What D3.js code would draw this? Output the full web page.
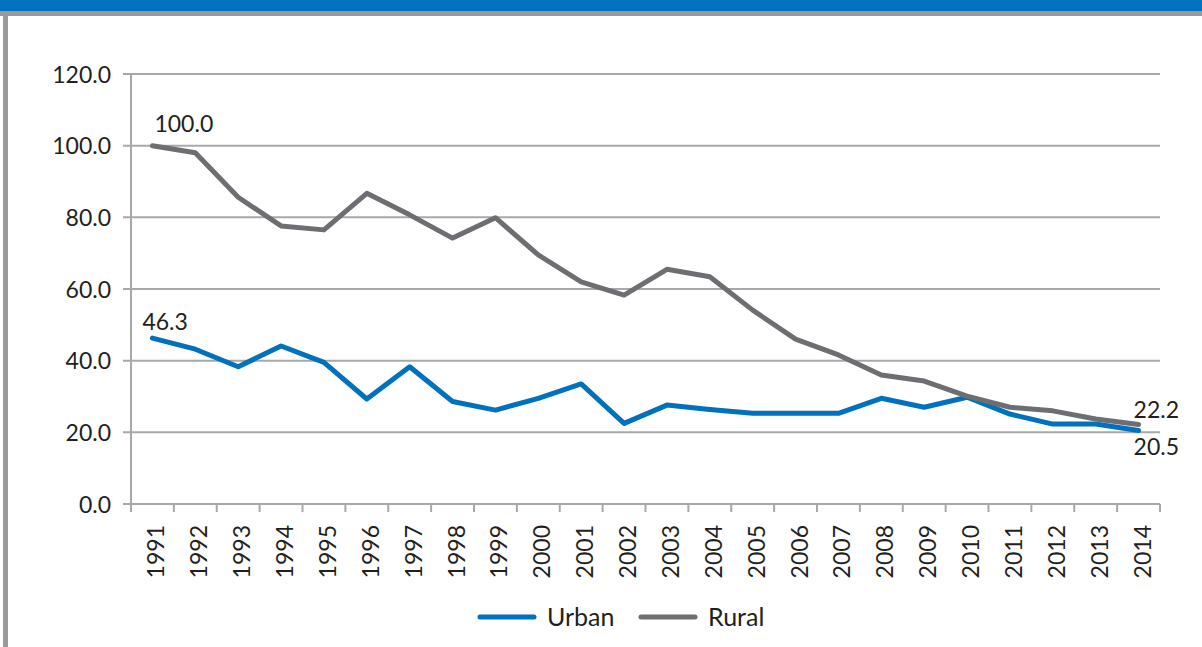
<!DOCTYPE html>
<html><head><meta charset="utf-8">
<script src="https://cdn.jsdelivr.net/npm/d3@7"></script>
<style>html,body{margin:0;padding:0;background:#fff;overflow:hidden}</style>
</head><body>
<svg id="c" width="1202" height="647"></svg>
<script>
const years = ["1991","1992","1993","1994","1995","1996","1997","1998","1999","2000","2001","2002","2003","2004","2005","2006","2007","2008","2009","2010","2011","2012","2013","2014"];
const urban = [46.3,43.2,38.3,44.1,39.5,29.3,38.3,28.6,26.2,29.5,33.5,22.5,27.6,26.4,25.3,25.3,25.3,29.5,27.0,29.8,25.1,22.3,22.3,20.5];
const rural = [100.0,98.0,85.6,77.6,76.5,86.7,80.7,74.2,79.9,69.5,62.0,58.3,65.5,63.4,54.1,46.0,41.6,36.0,34.3,30.1,27.0,26.0,23.7,22.2];
const yTicks = [0,20,40,60,80,100,120];
const seriesNames = ["Urban","Rural"];
const colors = ["#0071BC","#6D6E71"];

const svg = d3.select("#c");
const font = "Lato, 'Noto Sans', sans-serif";
const ink = "#231f20";
// frame
svg.append("rect").attr("x",0).attr("y",0).attr("width",1202).attr("height",11).attr("fill","#0071BC");
svg.append("rect").attr("x",0).attr("y",11).attr("width",1202).attr("height",5).attr("fill","#9a9a9c");
svg.append("rect").attr("x",3).attr("y",11).attr("width",5).attr("height",636).attr("fill","#9a9a9c");

const x = d3.scaleBand().domain(years).range([131,1160]);
const y = d3.scaleLinear().domain([0,120]).range([504,74]);
const g = svg.append("g");

// gridlines
g.selectAll("line.grid").data(yTicks).join("line")
  .attr("x1",123).attr("x2",1160).attr("y1",d=>y(d)).attr("y2",d=>y(d))
  .attr("stroke","#a7a8aa").attr("stroke-width",2);
// y axis line
g.append("line").attr("x1",131).attr("x2",131).attr("y1",y(120)).attr("y2",512).attr("stroke","#a7a8aa").attr("stroke-width",2);
// x ticks at band boundaries
const bounds = years.map(d=>x(d)).concat([x.range()[1]]);
g.selectAll("line.xt").data(bounds).join("line")
  .attr("x1",d=>d).attr("x2",d=>d).attr("y1",504).attr("y2",512)
  .attr("stroke","#a7a8aa").attr("stroke-width",2);
// y labels
g.selectAll("text.yl").data(yTicks).join("text")
  .attr("x",111).attr("y",d=>y(d)+8.5).attr("text-anchor","end")
  .attr("font-family",font).attr("font-size",23).attr("fill",ink)
  .text(d=>d3.format(".1f")(d));
// x labels
g.selectAll("text.xl").data(years).join("text")
  .attr("transform",d=>`translate(${x(d)+x.bandwidth()/2+12},525) rotate(-90)`)
  .attr("text-anchor","end")
  .attr("font-family",font).attr("font-size",23).attr("fill",ink)
  .text(d=>d);

const line = d3.line().x((d,i)=>x(years[i])+x.bandwidth()/2).y(d=>y(d));
[urban,rural].forEach((s,k)=>{
  g.append("path").datum(s).attr("d",line).attr("fill","none")
    .attr("stroke",colors[k]).attr("stroke-width",5).attr("stroke-linejoin","round").attr("stroke-linecap","round");
});
// data labels
const cx = i=>x(years[i])+x.bandwidth()/2;
const lab = (txt,xx,yy)=>g.append("text").attr("x",xx).attr("y",yy).attr("font-family",font).attr("font-size",23).attr("fill",ink).text(txt);
lab(d3.format(".1f")(rural[0]), cx(0)+2, y(rural[0])-14);
lab(d3.format(".1f")(urban[0]), cx(0)-10, y(urban[0])-8);
lab(d3.format(".1f")(rural[23]), cx(23)-5, y(rural[23])-6);
lab(d3.format(".1f")(urban[23]), cx(23)-5, y(urban[23])+24.5);

// legend
const lx = [480,641];
seriesNames.forEach((n,k)=>{
  g.append("line").attr("x1",lx[k]).attr("x2",lx[k]+54).attr("y1",617).attr("y2",617)
    .attr("stroke",colors[k]).attr("stroke-width",5).attr("stroke-linecap","round");
  g.append("text").attr("x",lx[k]+67).attr("y",626).attr("font-family",font).attr("font-size",25).attr("fill",ink).text(n);
});
</script>
</body></html>
